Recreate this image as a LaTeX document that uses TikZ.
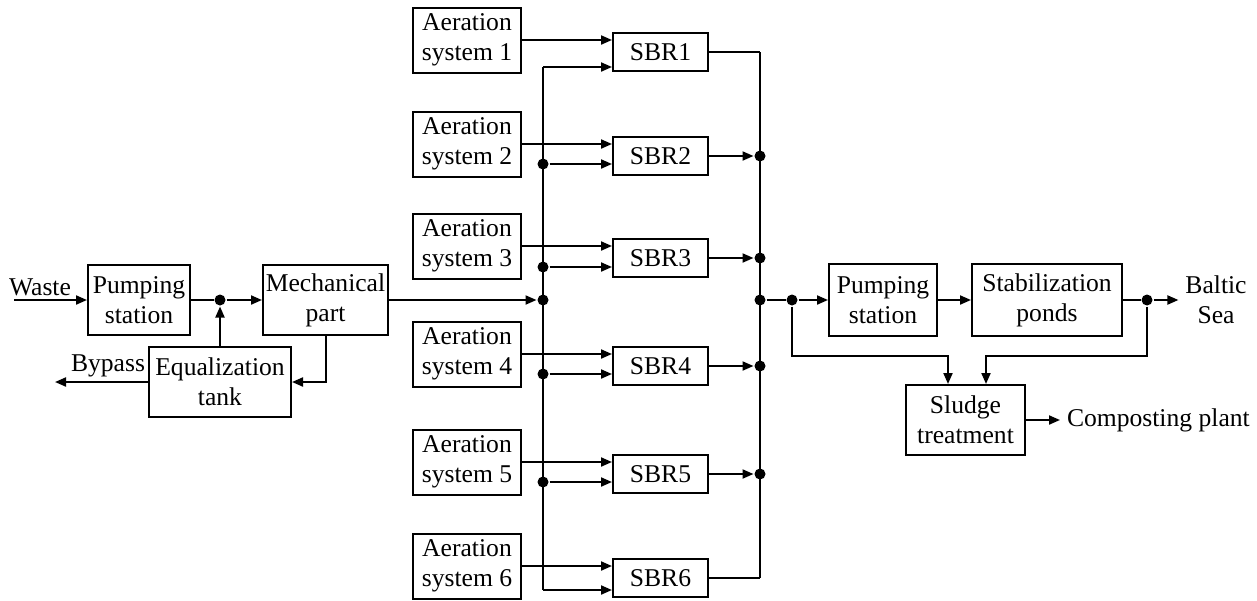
\documentclass[tikz,border=0pt]{standalone}
\usepackage{fontspec}
\setmainfont{Liberation Serif}
\usetikzlibrary{positioning, arrows.meta}

\begin{document}
\begin{tikzpicture}[x=0.5pt, y=-0.5pt, line width=1pt,
    >={Triangle[length=5.5pt, width=4.5pt]},
    box/.style={draw, inner sep=0pt, align=center, font=\fontsize{12.8}{15}\selectfont},
    aer/.style={box, minimum width=54pt, minimum height=32.5pt},
    sbr/.style={box, minimum width=47.5pt, minimum height=19pt},
    lbl/.style={inner sep=3pt, align=center, font=\fontsize{12.8}{15}\selectfont},
    dot/.style={circle, fill, inner sep=0pt, minimum size=5.5pt}]
    \useasboundingbox (0,0) rectangle (1257,600);

    % inlet side
    \node[box, minimum width=51pt, minimum height=35pt] (pump1) at (139,300) {Pumping\\station};
    \node[box, minimum width=62.5pt, minimum height=35pt] (mech) at (325.5,300) {Mechanical\\part};
    \node[box, minimum width=71pt, minimum height=35pt] (eq) at (220,382) {Equalization\\tank};
    \node[dot] (j1) at (220,300) {};
    \node[lbl] (waste) at (40,287) {Waste};
    \node[lbl] (bypass) at (108,366) {Bypass};
    \coordinate (w) at (14,300);
    \coordinate (byp) at (55,382);

    \draw [->] (w) -- (pump1);
    \draw (pump1) -- (j1);
    \draw [->] (j1) -- (mech);
    \draw [->] (eq) -- (j1);
    \draw [->] (mech.south) |- (eq.east);
    \draw [->] (eq.west) -- (byp);

    % aeration systems and reactors
    \node[aer] (a1) at (467,40) {Aeration\\system 1};
    \node[aer] (a2) at (467,144) {Aeration\\system 2};
    \node[aer] (a3) at (467,246) {Aeration\\system 3};
    \node[aer] (a4) at (467,354) {Aeration\\system 4};
    \node[aer] (a5) at (467,462) {Aeration\\system 5};
    \node[aer] (a6) at (467,566) {Aeration\\system 6};

    \node[sbr] (s1) at (660.5,52) {SBR1};
    \node[sbr] (s2) at (660.5,156) {SBR2};
    \node[sbr] (s3) at (660.5,258) {SBR3};
    \node[sbr] (s4) at (660.5,366) {SBR4};
    \node[sbr] (s5) at (660.5,474) {SBR5};
    \node[sbr] (s6) at (660.5,578) {SBR6};

    % inflow bus
    \coordinate (b1) at (543,67);
    \node[dot] (b2) at (543,164) {};
    \node[dot] (b3) at (543,267) {};
    \node[dot] (bm) at (543,300) {};
    \node[dot] (b4) at (543,374) {};
    \node[dot] (b5) at (543,482) {};
    \coordinate (b6) at (543,590);

    \draw (b1) -- (b6);
    \draw [->] (mech) -- (bm);
    \draw [->] (b1) -- (b1 -| s1.west);
    \draw [->] (b2) -- (b2 -| s2.west);
    \draw [->] (b3) -- (b3 -| s3.west);
    \draw [->] (b4) -- (b4 -| s4.west);
    \draw [->] (b5) -- (b5 -| s5.west);
    \draw [->] (b6) -- (b6 -| s6.west);

    \draw [->] (a1.east) -- (a1.east -| s1.west);
    \draw [->] (a2.east) -- (a2.east -| s2.west);
    \draw [->] (a3.east) -- (a3.east -| s3.west);
    \draw [->] (a4.east) -- (a4.east -| s4.west);
    \draw [->] (a5.east) -- (a5.east -| s5.west);
    \draw [->] (a6.east) -- (a6.east -| s6.west);

    % outflow bus
    \coordinate (r1) at (760,52);
    \node[dot] (r2) at (760,156) {};
    \node[dot] (r3) at (760,258) {};
    \node[dot] (rm) at (760,300) {};
    \node[dot] (r4) at (760,366) {};
    \node[dot] (r5) at (760,474) {};
    \coordinate (r6) at (760,578);

    \draw (r1) -- (r6);
    \draw (s1) -- (r1);
    \draw [->] (s2) -- (r2);
    \draw [->] (s3) -- (r3);
    \draw [->] (s4) -- (r4);
    \draw [->] (s5) -- (r5);
    \draw (s6) -- (r6);

    % outlet side
    \node[box, minimum width=54pt, minimum height=36pt] (pump2) at (883,300) {Pumping\\station};
    \node[box, minimum width=75pt, minimum height=36pt] (stab) at (1047,300) {Stabilization\\ponds};
    \node[box, minimum width=59.5pt, minimum height=35pt] (sludge) at (965.5,420) {Sludge\\treatment};
    \node[dot] (j3) at (792,300) {};
    \node[dot] (j4) at (1147,300) {};
    \node[lbl] (baltic) at (1216,300) {Baltic\\Sea};
    \node[lbl, anchor=west] (comp) at (1060,420) {Composting plant};
    \coordinate (k1) at (948,356);
    \coordinate (k2) at (986,356);

    \draw (rm) -- (j3);
    \draw [->] (j3) -- (pump2);
    \draw [->] (pump2) -- (stab);
    \draw (stab) -- (j4);
    \draw [->] (j4) -- (baltic);
    \draw [->] (j3) |- (k1) -- (k1 |- sludge.north);
    \draw [->] (j4) |- (k2) -- (k2 |- sludge.north);
    \draw [->] (sludge) -- (comp);
\end{tikzpicture}
\end{document}
